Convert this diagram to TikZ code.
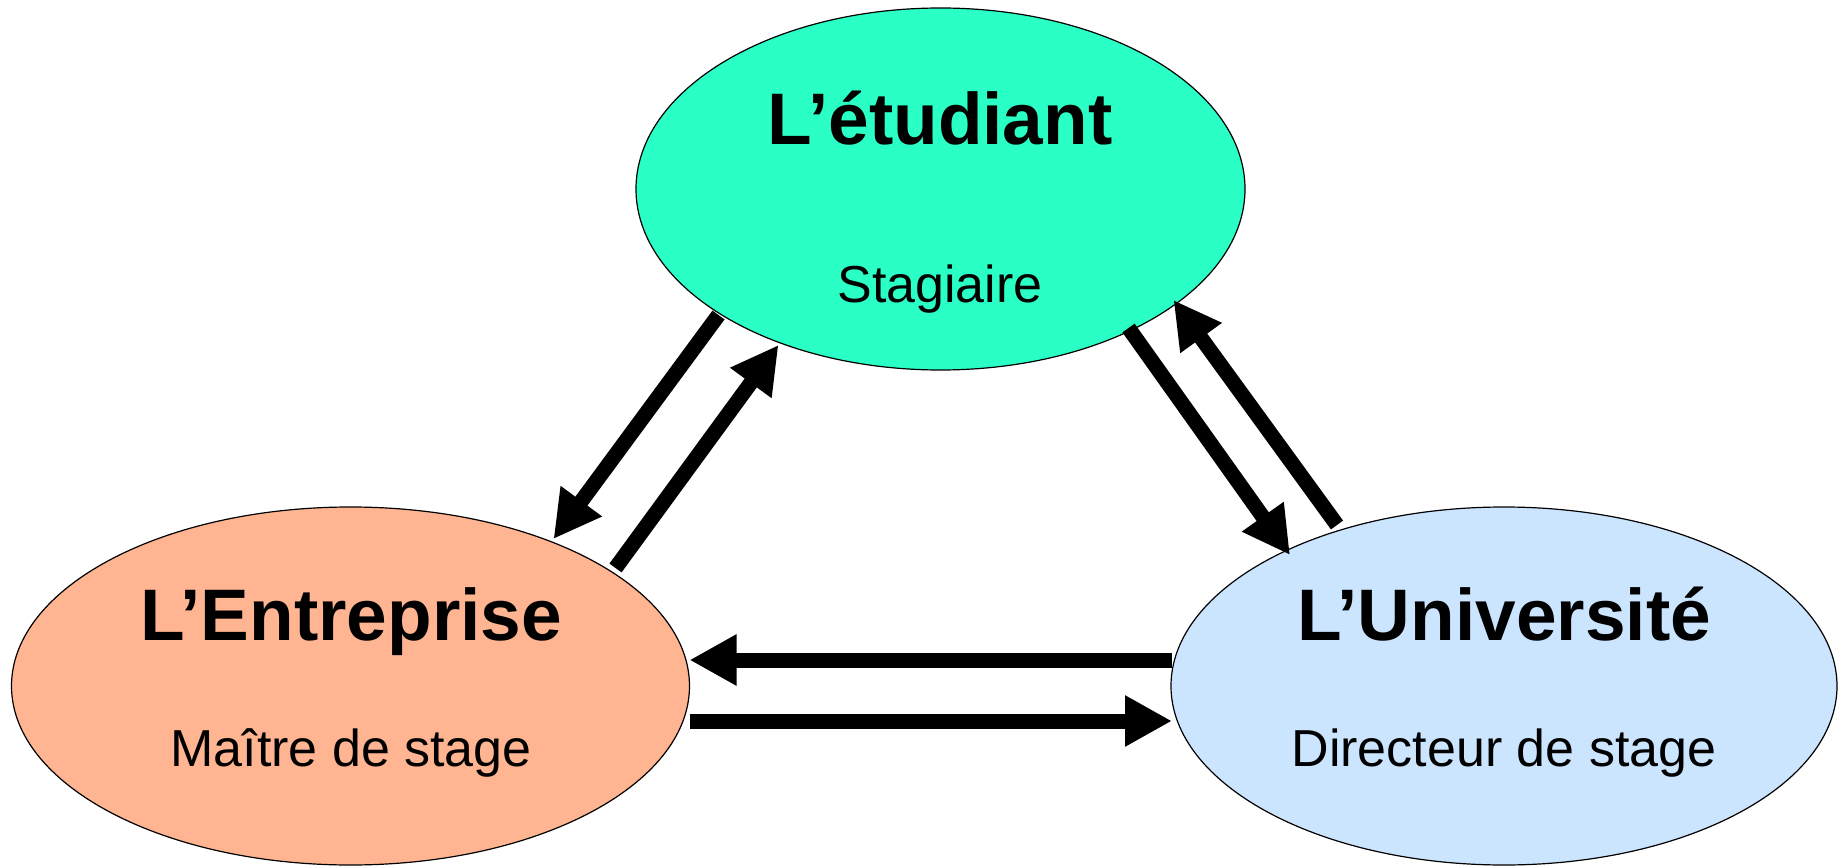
\documentclass[tikz,border=0pt]{standalone}
\usepackage{fontspec}
\setmainfont{Liberation Sans}
\usetikzlibrary{arrows.meta,shapes.geometric,calc}
\definecolor{etucolor}{RGB}{42,255,198}
\definecolor{entcolor}{RGB}{255,181,145}
\definecolor{univcolor}{RGB}{204,229,255}
\begin{document}
\begin{tikzpicture}
[x=0.5pt,y=-0.5pt,%
  role/.style={shape=ellipse,draw,line width=0.6pt,inner sep=0pt,outer sep=0pt},%
  title/.style={anchor=base,inner sep=0pt,font=\fontsize{36.5}{40}\selectfont\bfseries},%
  sub/.style={anchor=base,inner sep=0pt,font=\fontsize{26}{30}\selectfont},%
  flow/.style={line width=7.5pt,-{Triangle[length=23.5pt,width=24pt]}}]
\useasboundingbox (0,0) rectangle (1843,866);
% the three partners
\node[role,fill=etucolor,minimum width=304.5pt,minimum height=181pt] (etu) at (940.5,189) {};
\node[role,fill=entcolor,minimum width=339pt,minimum height=179pt] (ent) at (350.5,686) {};
\node[role,fill=univcolor,minimum width=333pt,minimum height=179pt] (univ) at (1504,686) {};
\node[title] (etuname) at (940,145) {L’étudiant};
\node[sub] (eturole) at (940,303) {Stagiaire};
\node[title] (entname) at (351,640) {L’Entreprise};
\node[sub] (entrole) at (351,766) {Maître de stage};
\node[title] (univname) at (1504,640) {L’Université};
\node[sub] (univrole) at (1504,766) {Directeur de stage};
% exchanges
\draw[flow] ($(etu)+(-222,126)$) -- ($(ent)+(203,-147)$);
\draw[flow] ($(ent)+(265,-118)$) -- ($(etu)+(-162,156)$);
\draw[flow] ($(etu)+(188,139)$) -- ($(univ)+(-214,-131)$);
\draw[flow] ($(univ)+(-167,-161)$) -- ($(etu)+(233,111)$);
\draw[flow] ($(univ)+(-332,-26)$) -- ($(ent)+(339,-26)$);
\draw[flow] ($(ent)+(339,35)$) -- ($(univ)+(-332,35)$);
\end{tikzpicture}
\end{document}
